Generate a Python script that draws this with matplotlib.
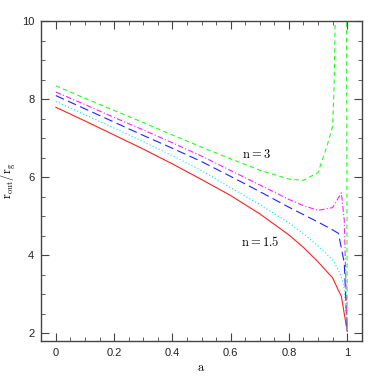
import matplotlib
matplotlib.use("Agg")
from matplotlib import pyplot as plt
from matplotlib.ticker import MultipleLocator

plt.rcParams['font.family'] = ['Liberation Sans', 'DejaVu Sans']
plt.rcParams['mathtext.fontset'] = 'cm'

# spin parameter grid and r_out/r_g for each model
a_red = [0, 0.1, 0.2, 0.3, 0.4, 0.5, 0.6, 0.7, 0.8, 0.85, 0.9, 0.95, 0.97, 0.98, 0.99, 1.0]
r_red = [7.79, 7.44, 7.08, 6.72, 6.34, 5.94, 5.53, 5.06, 4.52, 4.20, 3.83, 3.42, 3.10, 2.95, 2.50, 2.05]

a_cyan = [0, 0.1, 0.2, 0.3, 0.4, 0.5, 0.6, 0.7, 0.8, 0.85, 0.9, 0.95, 0.97, 0.98, 0.99, 1.0]
r_cyan = [7.94, 7.60, 7.26, 6.91, 6.55, 6.17, 5.73, 5.30, 4.83, 4.55, 4.24, 3.88, 3.62, 3.45, 3.15, 2.05]

a_blue = [0, 0.1, 0.2, 0.3, 0.4, 0.5, 0.6, 0.7, 0.8, 0.85, 0.9, 0.95, 0.97, 0.99, 1.0]
r_blue = [8.09, 7.75, 7.41, 7.07, 6.74, 6.40, 6.02, 5.63, 5.23, 5.04, 4.85, 4.65, 4.56, 3.80, 2.05]

a_mag = [0, 0.1, 0.2, 0.3, 0.4, 0.5, 0.6, 0.7, 0.8, 0.85, 0.9, 0.95, 0.98, 0.99, 1.0]
r_mag = [8.18, 7.86, 7.53, 7.21, 6.88, 6.54, 6.17, 5.80, 5.43, 5.27, 5.15, 5.22, 5.60, 4.90, 2.05]

a_green = [0, 0.1, 0.2, 0.3, 0.4, 0.5, 0.6, 0.7, 0.8, 0.85, 0.9, 0.93, 0.95, 0.955, 0.96, 0.99, 1.0]
r_green = [8.34, 8.02, 7.71, 7.40, 7.08, 6.77, 6.47, 6.18, 5.95, 5.92, 6.12, 6.78, 7.30, 8.30, 10.5, 40.0, 2.05]

fig = plt.figure(figsize=(3.82, 3.82), dpi=100)
ax = fig.add_axes([0.108, 0.107, 0.839, 0.838])

lw = 0.8
ax.plot(a_red, r_red, color='#ff2020', lw=lw, ls='-')
ax.plot(a_cyan, r_cyan, color='#00e8ff', lw=lw, ls=(0, (1, 2)))
ax.plot(a_blue, r_blue, color='#2020ff', lw=lw, ls=(0, (8, 4)))
ax.plot(a_mag, r_mag, color='#ff20ff', lw=lw, ls=(0, (5, 2, 1, 2)))
ax.plot(a_green, r_green, color='#20ff20', lw=lw, ls=(0, (4, 3)))

ax.text(0.688, 6.59, r'$\mathrm{n=3}$', fontsize=9, ha='center', va='center')
ax.text(0.70, 4.34, r'$\mathrm{n=1.5}$', fontsize=9, ha='center', va='center')

ax.set_xlim(-0.05, 1.05)
ax.set_ylim(1.8, 10)
ax.xaxis.set_minor_locator(MultipleLocator(0.05))
ax.yaxis.set_minor_locator(MultipleLocator(0.5))
ax.set_xticks([0, 0.2, 0.4, 0.6, 0.8, 1.0])
ax.set_xticklabels(['0', '0.2', '0.4', '0.6', '0.8', '1'])
ax.set_yticks([2, 4, 6, 8, 10])
ax.set_yticklabels(['2', '4', '6', '8', '10'])
ax.tick_params(which='both', direction='in', top=True, right=True,
               labelsize=8, color='#444444', labelcolor='#222222', pad=5)
ax.tick_params(which='major', length=6, width=0.8)
ax.tick_params(which='minor', length=3, width=0.6)
for s in ax.spines.values():
    s.set_color('#444444')
    s.set_linewidth(1.0)

ax.set_xlabel(r'$\mathrm{a}$', fontsize=9)
ax.set_ylabel(r'$\mathrm{r_{out}/r_g}$', fontsize=9)
ax.xaxis.set_label_coords(0.5, -0.066)
ax.yaxis.set_label_coords(-0.072, 0.5)

plt.savefig('out.png', dpi=100)
